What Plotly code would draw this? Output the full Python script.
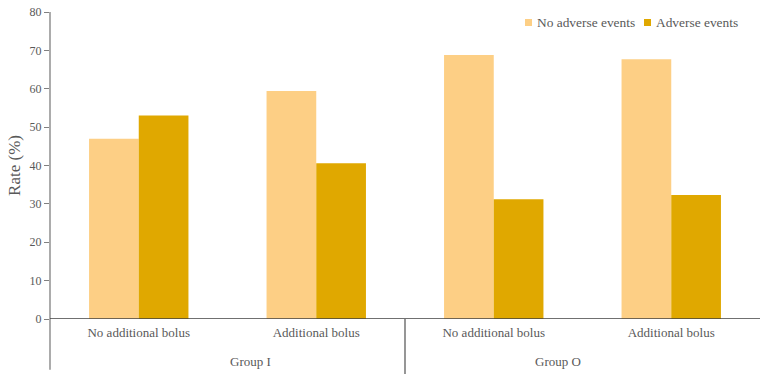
import plotly.graph_objects as go

categories = ["No additional bolus", "Additional bolus", "No additional bolus ", "Additional bolus "]
tick_text = ["No additional bolus", "Additional bolus", "No additional bolus", "Additional bolus"]
groups = ["Group I", "Group O"]
series_names = ["No adverse events", "Adverse events"]
no_adverse = [47.0, 59.4, 68.8, 67.7]
adverse = [53.0, 40.6, 31.2, 32.3]
y_ticks = [0, 10, 20, 30, 40, 50, 60, 70, 80]

FONT = "Liberation Serif"
GREY = "#595959"
COLORS = ["#FDCF85", "#E0A800"]

W, H = 766, 374
ML, MR, MT, MB = 50, 6, 12, 55
PW, PH = W - ML - MR, H - MT - MB


def px_x(px):
    return (px - ML) / PW


def px_y(py):
    return (H - MB - py) / PH


fig = go.Figure()
for name, vals, col in zip(series_names, [no_adverse, adverse], COLORS):
    fig.add_trace(go.Bar(x=categories, y=vals, name=name, showlegend=False,
                         marker=dict(color=col, line=dict(width=0))))

fig.update_layout(
    width=W, height=H,
    margin=dict(l=ML, r=MR, t=MT, b=MB),
    paper_bgcolor="white", plot_bgcolor="white",
    barmode="group", bargap=0.44, bargroupgap=0,
    font=dict(family=FONT, color=GREY, size=12),
    showlegend=False,
)
fig.update_xaxes(
    type="category", tickmode="array", tickvals=categories, ticktext=tick_text,
    showline=False, showgrid=False, ticks="", zeroline=False, automargin=False,
    ticklabelstandoff=4,
    tickfont=dict(family=FONT, size=13, color=GREY),
)
fig.update_yaxes(
    range=[0, 80], tickvals=y_ticks, showgrid=False, zeroline=False, automargin=False,
    showline=False, ticks="outside", ticklen=5, tickcolor="#808080",
    tickfont=dict(family=FONT, size=12, color=GREY),
    title=dict(text="Rate (%)", font=dict(family=FONT, size=17, color=GREY), standoff=4),
)

# axis lines and group dividers
fig.add_shape(type="line", xref="paper", yref="paper", x0=0, x1=0, y0=1, y1=-0.165,
              line=dict(color="#7F7F7F", width=1.3))
fig.add_shape(type="line", xref="paper", yref="y", x0=0, x1=1, y0=0, y1=0,
              line=dict(color="#404040", width=1.3))
fig.add_shape(type="line", xref="paper", yref="paper", x0=0.5, x1=0.5, y0=0, y1=-0.18,
              line=dict(color="#404040", width=1.1))

for i, g in enumerate(groups):
    fig.add_annotation(x=0.25 + 0.5 * i, xref="paper", y=-0.14, yref="paper",
                       text=g, showarrow=False, yanchor="middle",
                       font=dict(family=FONT, size=13, color=GREY))

# legend: small squares + text
legend_x = [525, 644]
for name, col, lx in zip(series_names, COLORS, legend_x):
    fig.add_shape(type="rect", xref="paper", yref="paper",
                  x0=px_x(lx), x1=px_x(lx + 7), y0=px_y(26), y1=px_y(19),
                  fillcolor=col, line=dict(width=0))
    fig.add_annotation(x=px_x(lx + 10), xref="paper", y=px_y(22.5), yref="paper",
                       text=name, showarrow=False, xanchor="left", yanchor="middle",
                       font=dict(family=FONT, size=13.4, color=GREY))

fig.write_html("out.html", config={"displayModeBar": False},
               post_script="document.body.style.margin='0';")
